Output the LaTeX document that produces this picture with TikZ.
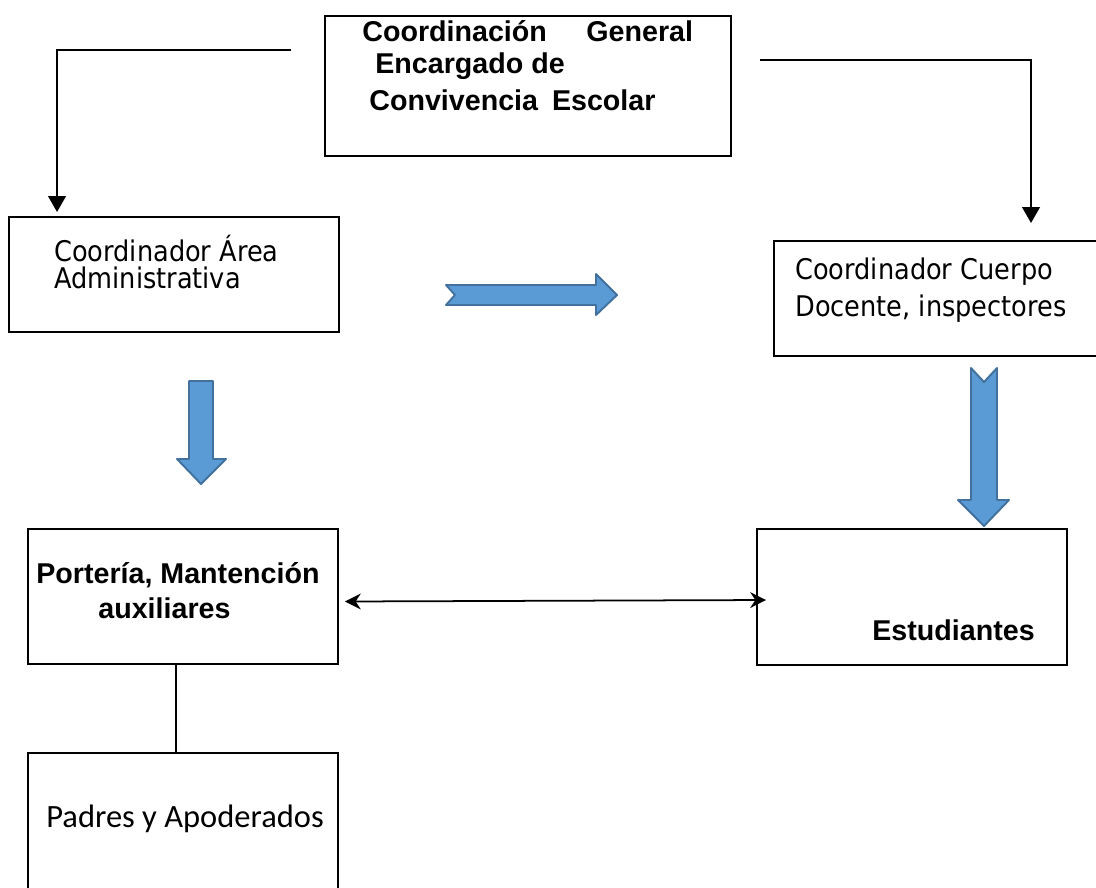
\documentclass[tikz,border=0pt]{standalone}
\usepackage{fontspec}
\setmainfont{Liberation Sans}
\newfontfamily\verdana[FakeStretch=0.9]{DejaVu Sans}
\newfontfamily\calibri{Carlito}
\usetikzlibrary{arrows.meta}
\definecolor{flecha}{RGB}{91,155,213}
\definecolor{flechaborde}{RGB}{65,113,156}

\begin{document}
\begin{tikzpicture}[x=0.02cm, y=-0.02cm,
    box/.style={draw, line width=1pt, inner sep=0pt, outer sep=0pt},
    txt/.style={anchor=base west, inner sep=0pt},
    negrita/.style={font=\fontsize{16.3}{19}\selectfont\bfseries},
    ver/.style={font=\verdana\fontsize{16.2}{19}\selectfont},
    conn/.style={line width=1pt, -{Triangle[length=9pt, width=10pt]}},
    bloque/.style={fill=flecha, draw=flechaborde, line width=1.1pt, line join=round}]
  \useasboundingbox (0,0) rectangle (1096,887);
  \clip (0,0) rectangle (1096,887);
  % cajas
  \node[box, minimum width=8.12cm, minimum height=2.8cm] (gen) at (528,86) {};
  \node[box, minimum width=6.6cm, minimum height=2.3cm] (adm) at (174,274.5) {};
  \node[box, minimum width=6.52cm, minimum height=2.3cm] (doc) at (937,298.5) {};
  \node[box, minimum width=6.2cm, minimum height=2.7cm] (por) at (183,596.5) {};
  \node[box, minimum width=6.2cm, minimum height=2.72cm] (est) at (912,597) {};
  \node[box, minimum width=6.2cm, minimum height=3.14cm] (pad) at (183,831.5) {};
  % textos
  \node[txt, negrita] (g1) at (362,41) {Coordinación\hspace{0.79cm}General};
  \node[txt, negrita] (g2) at (375,73) {Encargado de};
  \node[txt, negrita] (g3) at (369,110) {Convivencia\hspace{0.12cm} Escolar};
  \node[txt, ver, align=left, font=\verdana\fontsize{16.2}{15.2}\selectfont] (a1) at (54,288)
    {Coordinador Área\\Administrativa};
  \node[txt, ver] (d1) at (795,279) {Coordinador Cuerpo};
  \node[txt, ver] (d2) at (795,316) {Docente, inspectores};
  \node[txt, negrita] (p1) at (36,583) {Portería, Mantención};
  \node[txt, negrita] (p2) at (98,618) {auxiliares};
  \node[txt, negrita] (e1) at (872,640) {Estudiantes};
  \node[txt, font=\calibri\fontsize{18.5}{22}\selectfont] (h1) at (46,827) {Padres y Apoderados};
  % conectores
  \coordinate (ls) at (291,50);
  \coordinate (rs) at (760,60);
  \draw[conn] (ls) -| ([shift={(48,-5)}]adm.north west);
  \draw[conn] (rs) -| ([shift={(257,-18)}]doc.north west);
  \draw[line width=1pt, {Stealth[length=9pt, width=9pt]}-{Stealth[length=9pt, width=9pt]}]
    ([shift={(7,5)}]por.east) -- ([shift={(9,3)}]est.west);
  \draw[line width=1pt] ([shift={(-7,0)}]por.south) -- ([shift={(-7,0)}]pad.north);
  % flechas azules
  \draw[bloque] (446,285) -- (596,285) -- (596,274) -- (617,295) -- (596,315)
    -- (596,305) -- (446,305) -- (455,295) -- cycle;
  \draw[bloque] (189,381) -- (213,381) -- (213,459) -- (226,459) -- (201,484)
    -- (177,459) -- (189,459) -- cycle;
  \draw[bloque] (971,368) -- (984,382) -- (997,368) -- (997,500) -- (1009,500)
    -- (984,526) -- (958,500) -- (971,500) -- cycle;
\end{tikzpicture}
\end{document}
